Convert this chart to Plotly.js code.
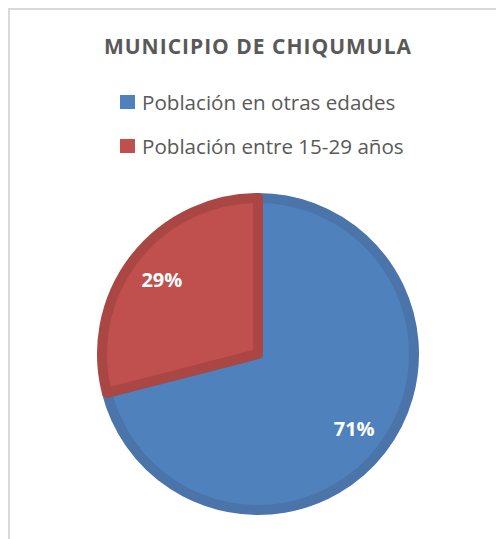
<!DOCTYPE html>
<html>
<head>
<meta charset="utf-8">
<script src="https://cdn.plot.ly/plotly-3.0.1.min.js"></script>
<style>html,body{margin:0;padding:0;background:#fff;}#chart{width:496px;height:539px;}
.gtitle{letter-spacing:1px;}</style>
</head>
<body>
<div id="chart"></div>
<script>
const chartTitle = "MUNICIPIO DE CHIQUMULA";
const labels = ["Población en otras edades", "Población entre 15-29 años"];
const values = [71, 29];
const fillColors = ["#4F81BD", "#C0504D"];
const edgeColors = ["#4A74AA", "#AA4643"];

const W = 496, H = 539;
const px = v => v / W;
const py = v => 1 - v / H;

const legendRowsY = [102, 146];

const annotations = labels.map((lab, i) => ({
  text: lab, xref: "paper", yref: "paper",
  x: px(140), y: py(legendRowsY[i]), xanchor: "left", yanchor: "middle",
  showarrow: false, font: {family: "Open Sans", size: 20.6, color: "#595959"}
}));

const shapes = [
  {type: "line", xref: "paper", yref: "paper", x0: px(9), x1: px(9), y0: 0, y1: py(8), line: {color: "#D9D9D9", width: 2}},
  {type: "line", xref: "paper", yref: "paper", x0: px(8), x1: 1, y0: py(9), y1: py(9), line: {color: "#D9D9D9", width: 2}}
].concat(labels.map((lab, i) => ({
  type: "rect", xref: "paper", yref: "paper",
  x0: px(120), x1: px(135), y0: py(legendRowsY[i] - 7), y1: py(legendRowsY[i] + 7),
  fillcolor: fillColors[i], line: {width: 0}
})));

const cx = 258, cy = 354, r = 156;
const pieDomain = {x: [px(cx - r), px(cx + r)], y: [py(cy + r), py(cy - r)]};

const data = [{
  type: "pie",
  labels: labels,
  values: values,
  sort: false,
  direction: "clockwise",
  rotation: 0,
  marker: {colors: fillColors, line: {color: edgeColors, width: 10}},
  textinfo: "none",
  hoverinfo: "label+percent",
  showlegend: false,
  domain: pieDomain
}, {
  type: "pie",
  labels: labels,
  values: values,
  sort: false,
  direction: "clockwise",
  rotation: 0,
  hole: 0.56,
  marker: {colors: ["rgba(0,0,0,0)", "rgba(0,0,0,0)"], line: {width: 0}},
  texttemplate: "%{percent:.0%}",
  textposition: "inside",
  insidetextorientation: "horizontal",
  textfont: {family: "Open Sans", size: 20, color: "#FFFFFF", weight: "bold"},
  hoverinfo: "skip",
  showlegend: false,
  domain: pieDomain
}];

const layout = {
  width: W, height: H,
  margin: {l: 0, r: 0, t: 0, b: 0},
  paper_bgcolor: "#FFFFFF",
  title: {
    text: "<b>" + chartTitle + "</b>",
    x: px(258), xanchor: "center",
    y: py(47), yanchor: "middle", yref: "container",
    font: {family: "Open Sans", size: 21, color: "#595959"}
  },
  showlegend: false,
  annotations: annotations,
  shapes: shapes
};

Plotly.newPlot("chart", data, layout, {displayModeBar: false, staticPlot: true});
</script>
</body>
</html>
